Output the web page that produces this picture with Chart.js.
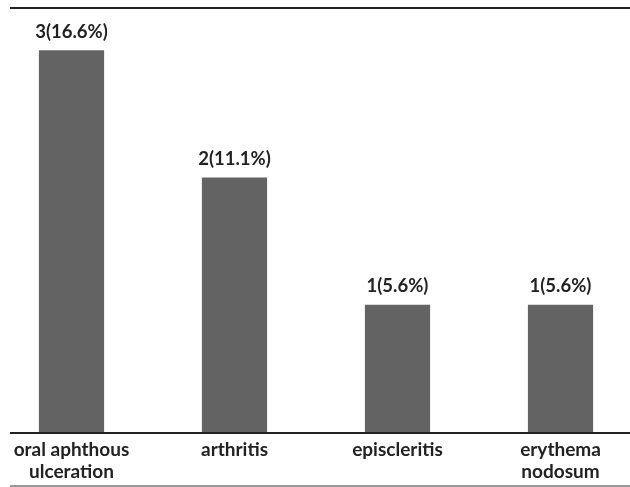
<!DOCTYPE html>
<html>
<head>
<meta charset="utf-8">
<script src="https://cdn.jsdelivr.net/npm/chart.js@4"></script>
<style>
  html, body { margin: 0; padding: 0; background: #fff; overflow: hidden; }
  #wrap { position: absolute; left: -10px; top: 0; width: 652px; height: 487px; }
</style>
</head>
<body>
<div id="wrap"><canvas id="chart"></canvas></div>
<script>
// bar chart: counts with percentages on top
const categories = [['oral aphthous', 'ulceration'], ['arthritis'], ['episcleritis'], ['erythema', 'nodosum']];
const counts = [3, 2, 1, 1];
const percents = ['16.6%', '11.1%', '5.6%', '5.6%'];

const FONT = 'Lato, "Open Sans", sans-serif';

// value labels + the three horizontal rules
const decor = {
  id: 'decor',
  afterDatasetsDraw(chart) {
    const ctx = chart.ctx;
    const meta = chart.getDatasetMeta(0);
    ctx.save();
    ctx.fillStyle = '#222';
    ctx.font = 'bold 18.5px ' + FONT;
    ctx.textAlign = 'center';
    ctx.textBaseline = 'bottom';
    meta.data.forEach((bar, i) => {
      ctx.fillText(counts[i] + '(' + percents[i] + ')', bar.x, bar.y - 9);
    });
    const x0 = 20, x1 = 642;
    ctx.lineWidth = 2;
    ctx.strokeStyle = '#222';
    ctx.beginPath(); ctx.moveTo(x0, 8); ctx.lineTo(x1, 8); ctx.stroke();
    ctx.beginPath(); ctx.moveTo(x0, chart.chartArea.bottom + 1); ctx.lineTo(x1, chart.chartArea.bottom + 1); ctx.stroke();
    ctx.lineWidth = 1.5;
    ctx.strokeStyle = '#777';
    ctx.beginPath(); ctx.moveTo(x0, 486); ctx.lineTo(x1, 486); ctx.stroke();
    ctx.restore();
  }
};

new Chart(document.getElementById('chart'), {
  type: 'bar',
  data: {
    labels: categories,
    datasets: [{
      data: counts,
      backgroundColor: '#636363',
      barPercentage: 0.4,
      categoryPercentage: 1
    }]
  },
  options: {
    responsive: true,
    maintainAspectRatio: false,
    animation: false,
    layout: { padding: { top: 12, left: 0, right: 0, bottom: 0 } },
    plugins: { legend: { display: false }, tooltip: { enabled: false } },
    scales: {
      x: {
        grid: { display: false, drawTicks: false },
        border: { display: false },
        ticks: {
          color: '#222',
          font: { family: FONT, size: 19, weight: 'bold', lineHeight: 1.2 },
          padding: 6,
          maxRotation: 0,
          autoSkip: false
        },
        afterFit(axis) { axis.height = 55; }
      },
      y: {
        display: false,
        min: 0,
        max: 3.3
      }
    }
  },
  plugins: [decor]
});
</script>
</body>
</html>
